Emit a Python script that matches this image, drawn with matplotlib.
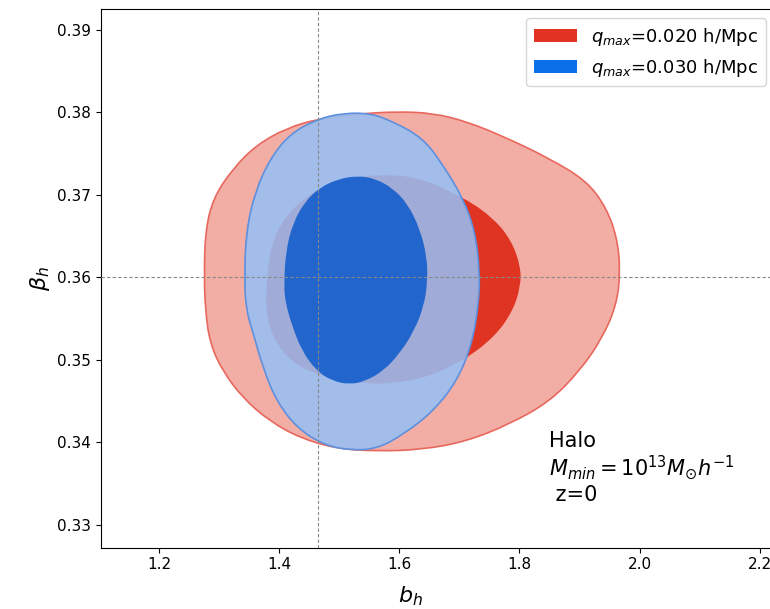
import matplotlib
matplotlib.use("Agg")
import matplotlib.pyplot as plt
import numpy as np
from matplotlib.patches import Patch, PathPatch
from matplotlib.path import Path

# contour outlines (b_h, beta_h)
red_outer_b = [1.275, 1.277, 1.290, 1.323, 1.363, 1.413, 1.464, 1.529, 1.596, 1.656, 1.712, 1.779,
               1.850, 1.912, 1.945, 1.963, 1.968, 1.962, 1.938, 1.900, 1.850, 1.784, 1.712, 1.639,
               1.563, 1.496, 1.435, 1.385, 1.340, 1.306, 1.285, 1.277]
red_outer_beta = [0.3604, 0.3656, 0.3696, 0.3732, 0.3761, 0.3781, 0.3792, 0.3798, 0.3801, 0.3799,
                  0.3789, 0.3769, 0.3744, 0.3717, 0.3684, 0.3647, 0.3607, 0.3567, 0.3526, 0.3486,
                  0.3449, 0.3422, 0.3401, 0.3391, 0.3389, 0.3392, 0.3405, 0.3425, 0.3453, 0.3486,
                  0.3519, 0.3559]

red_inner_b = [1.378, 1.385, 1.410, 1.451, 1.509, 1.573, 1.634, 1.712, 1.759, 1.787, 1.802, 1.802,
               1.789, 1.759, 1.709, 1.651, 1.593, 1.534, 1.468, 1.418, 1.388, 1.378]
red_inner_beta = [0.3583, 0.3638, 0.3674, 0.3702, 0.3720, 0.3725, 0.3721, 0.3695, 0.3670, 0.3644,
                  0.3613, 0.3589, 0.3559, 0.3528, 0.3500, 0.3480, 0.3471, 0.3471, 0.3480, 0.3498,
                  0.3528, 0.3559]

blue_outer_b = [1.342, 1.345, 1.360, 1.385, 1.418, 1.464, 1.506, 1.551, 1.589, 1.639, 1.672, 1.706,
                1.726, 1.734, 1.732, 1.721, 1.696, 1.656, 1.606, 1.563, 1.518, 1.473, 1.430, 1.396,
                1.373, 1.356, 1.345]
blue_outer_beta = [0.3599, 0.3656, 0.3704, 0.3744, 0.3774, 0.3792, 0.3799, 0.3799, 0.3789, 0.3769,
                   0.3737, 0.3696, 0.3656, 0.3607, 0.3567, 0.3519, 0.3474, 0.3437, 0.3409, 0.3392,
                   0.3390, 0.3397, 0.3417, 0.3449, 0.3490, 0.3534, 0.3560]

blue_inner_b = [1.408, 1.411, 1.423, 1.443, 1.468, 1.498, 1.529, 1.559, 1.589, 1.614, 1.634, 1.646,
                1.647, 1.641, 1.624, 1.601, 1.573, 1.543, 1.518, 1.489, 1.463, 1.438, 1.420, 1.410]
blue_inner_beta = [0.3592, 0.3632, 0.3666, 0.3692, 0.3709, 0.3719, 0.3723, 0.3720, 0.3708, 0.3689,
                   0.3659, 0.3625, 0.3595, 0.3565, 0.3534, 0.3508, 0.3486, 0.3474, 0.3470, 0.3474,
                   0.3486, 0.3510, 0.3544, 0.3571]

b_fid = 1.464
beta_fid = 0.36
labels = ["$q_{max}$=0.020 h/Mpc", "$q_{max}$=0.030 h/Mpc"]


def smooth_path(xs, ys):
    # closed quadratic-bezier outline with the read points as control points
    p = np.column_stack([xs, ys])
    n = len(p)
    mids = (p + np.roll(p, -1, axis=0)) / 2
    verts = [mids[-1]]
    codes = [Path.MOVETO]
    for i in range(n):
        verts += [p[i], mids[i]]
        codes += [Path.CURVE3, Path.CURVE3]
    return Path(verts, codes)


fig = plt.figure(figsize=(7.7, 6.09), dpi=100)
ax = fig.add_axes([0.131, 0.1007, 0.875, 0.884])

ax.add_patch(PathPatch(smooth_path(red_outer_b, red_outer_beta), facecolor="#e0321f", alpha=0.4,
                       edgecolor="none", zorder=1))
ax.add_patch(PathPatch(smooth_path(red_outer_b, red_outer_beta), facecolor="none",
                       edgecolor="#e8685d", lw=1.2, zorder=1))
ax.add_patch(PathPatch(smooth_path(red_inner_b, red_inner_beta), facecolor="#e03423",
                       edgecolor="none", zorder=2))
ax.add_patch(PathPatch(smooth_path(blue_outer_b, blue_outer_beta), facecolor="#95c1f8", alpha=0.85,
                       edgecolor="none", zorder=3))
ax.add_patch(PathPatch(smooth_path(blue_outer_b, blue_outer_beta), facecolor="none",
                       edgecolor="#5d90de", lw=1.2, zorder=3))
ax.add_patch(PathPatch(smooth_path(blue_inner_b, blue_inner_beta), facecolor="#145ecb", alpha=0.9,
                       edgecolor="none", zorder=4))

ax.axvline(b_fid, color="#888888", lw=0.8, ls=(0, (3, 2)), zorder=5)
ax.axhline(beta_fid, color="#888888", lw=0.8, ls=(0, (3, 2)), zorder=5)

ax.set_xlim(1.103, 2.225)
ax.set_ylim(0.3272, 0.3925)
ax.set_xticks([1.2, 1.4, 1.6, 1.8, 2.0, 2.2])
ax.set_yticks([0.33, 0.34, 0.35, 0.36, 0.37, 0.38, 0.39])
ax.tick_params(labelsize=11)
ax.set_xlabel("$b_h$", fontsize=16)
ax.set_ylabel(r"$\beta_h$", fontsize=16)
ax.xaxis.set_label_coords(0.46, -0.068)

ax.text(1.85, 0.3414, "Halo\n$M_{min}=10^{13}M_{\\odot}h^{-1}$\n z=0", fontsize=15,
        va="top", ha="left", linespacing=1.15, zorder=6)

handles = [Patch(facecolor="#e03323", edgecolor="none"), Patch(facecolor="#0a6fe8", edgecolor="none")]
ax.legend(handles, labels, loc="upper right", fontsize=13, handlelength=2.4)

fig.savefig("out.png", dpi=100)
